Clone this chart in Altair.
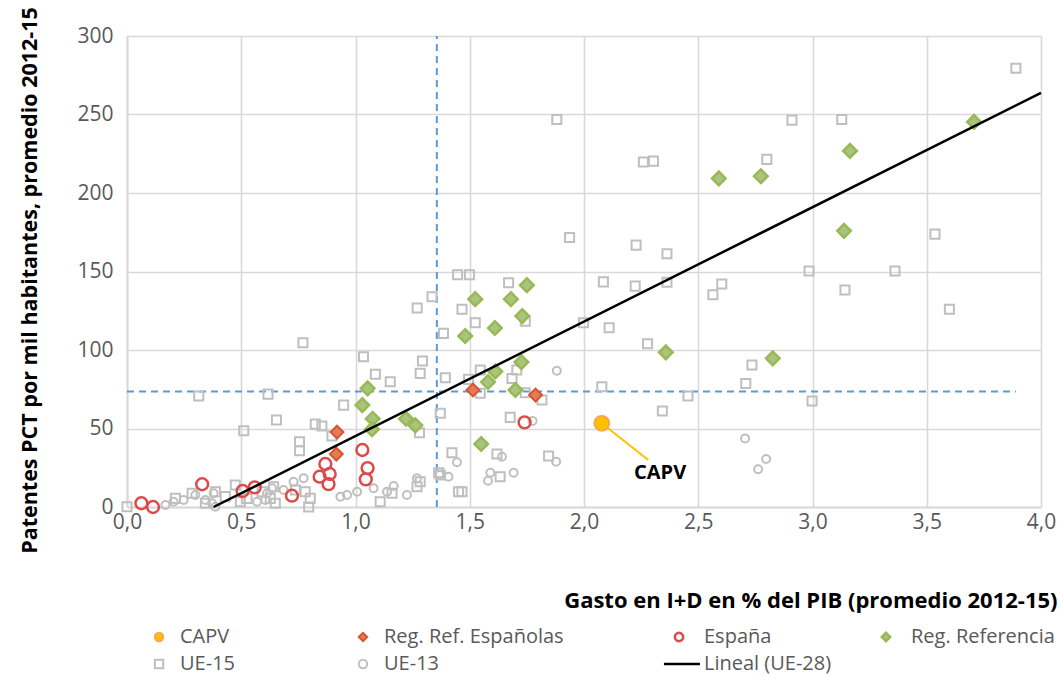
import altair as alt
import pandas as pd

FONT = "Open Sans"

# ---------------- data ----------------
ue15_x = [3.89, 2.91, 3.128, 1.881, 2.26, 2.304, 2.80, 2.228, 2.363, 1.937, 3.536, 2.985, 3.361, 3.142, 3.599,
          2.085, 2.224, 2.363, 2.603, 2.564, 2.11, 2.278, 2.735, 2.708, 2.455, 2.998, 2.343, 2.078, 1.447, 1.499,
          1.67, 1.335, 1.466, 1.524, 1.743, 1.998, 1.385, 1.27, 1.546, 1.706, 1.393, 1.495, 1.685, 1.546, 1.743,
          1.816, 1.371, 1.677, 1.422, 1.619, 1.845, 1.371, 1.633, 1.466, 0.77, 1.035, 1.293, 1.283, 1.087, 1.152,
          0.617, 0.314, 0.948, 0.654, 0.824, 0.853, 0.511, 0.755, 0.755, 1.28, 0.897, 0.0, 0.212, 0.285, 0.343,
          0.387, 0.43, 0.474, 0.525, 0.591, 0.627, 0.649, 0.642, 0.737, 0.78, 0.802, 0.795, 1.108, 1.16, 1.283,
          1.269, 1.364, 1.451, 0.496]
ue15_y = [279.5, 246.4, 246.8, 246.8, 219.8, 220.3, 221.4, 166.8, 161.3, 171.7, 173.8, 150.3, 150.3, 138.2, 125.9,
          143.4, 140.7, 143.1, 142.0, 135.2, 114.2, 104.0, 90.4, 78.7, 70.7, 67.5, 61.1, 76.6, 147.9, 147.9,
          142.8, 133.9, 125.9, 117.3, 118.4, 117.3, 110.6, 126.7, 87.2, 87.2, 82.3, 81.3, 81.9, 72.4, 72.8,
          68.1, 59.7, 57.1, 34.6, 33.7, 32.5, 20.4, 19.3, 9.7, 104.6, 95.7, 93.0, 85.1, 84.5, 79.8,
          71.9, 70.7, 64.9, 55.4, 52.8, 51.6, 48.6, 41.5, 35.8, 47.3, 45.2, 0.2, 5.5, 8.7, 2.4,
          9.7, 6.6, 14.0, 5.5, 9.7, 5.5, 2.4, 12.9, 10.8, 9.7, 5.5, 0.0, 3.4, 8.7, 16.1,
          12.9, 21.8, 9.7, 3.4]

ue13_x = [1.881, 1.775, 1.444, 1.641, 1.878, 1.368, 1.407, 1.59, 1.692, 1.58, 2.705, 2.797, 2.762,
          0.168, 0.204, 0.248, 0.299, 0.343, 0.372, 0.379, 0.387, 0.569, 0.605, 0.613, 0.635, 0.685,
          0.729, 0.773, 0.934, 0.963, 1.007, 1.079, 1.138, 1.167, 1.225, 1.269]
ue13_y = [86.8, 54.8, 28.5, 32.0, 28.8, 20.4, 19.3, 21.8, 21.8, 16.7, 43.7, 30.6, 24.0,
          1.3, 3.4, 4.5, 7.6, 4.5, 2.4, 8.7, 0.2, 3.4, 4.5, 8.7, 11.9, 10.8,
          16.1, 18.3, 6.6, 7.6, 9.7, 11.9, 9.7, 13.4, 7.6, 18.3]

esp_x = [0.063, 0.114, 0.329, 0.506, 0.559, 0.722, 0.868, 0.843, 0.887, 0.882, 1.03, 1.053, 1.045, 1.74]
esp_y = [2.4, 0.0, 14.5, 10.2, 12.5, 7.2, 27.4, 19.3, 21.0, 14.6, 36.3, 24.8, 17.6, 53.9]

rre_x = [0.919, 0.916, 1.514, 1.788]
rre_y = [47.7, 33.7, 74.5, 71.3]

rref_x = [3.707, 3.164, 2.59, 2.774, 3.138, 2.358, 2.826, 1.524, 1.75, 1.68, 1.73, 1.61, 1.48, 1.726,
          1.612, 1.58, 1.70, 1.55, 1.053, 1.03, 1.075, 1.072, 1.221, 1.262]
rref_y = [245.3, 226.8, 209.3, 210.7, 175.9, 98.5, 94.7, 132.4, 141.3, 132.4, 121.6, 114.0, 108.9, 92.3,
          86.3, 79.6, 74.5, 40.1, 75.6, 64.9, 56.2, 49.5, 56.2, 52.0]

capv_x = [2.078]
capv_y = [53.3]

trend_x = [0.379, 4.0]
trend_y = [0.0, 263.8]

mean_x = 1.356
mean_y = 73.5
mean_y_end = 3.89

label_x = [2.333]
label_y = [21.6]
leader_x2 = [2.281]
leader_y2 = [29.9]

x_ticks = [0, 0.5, 1.0, 1.5, 2.0, 2.5, 3.0, 3.5, 4.0]
y_ticks = [0, 50, 100, 150, 200, 250, 300]

X_TITLE = "Gasto en I+D en % del PIB (promedio 2012-15)"
Y_TITLE = "Patentes PCT por mil habitantes, promedio 2012-15"

# ---------------- tables ----------------
dfA = pd.concat([
    pd.DataFrame({"x": ue15_x, "y": ue15_y, "serie": "UE-15"}),
    pd.DataFrame({"x": ue13_x, "y": ue13_y, "serie": "UE-13"}),
    pd.DataFrame({"x": rre_x, "y": rre_y, "serie": "Reg. Ref. Españolas"}),
    pd.DataFrame({"x": capv_x, "y": capv_y, "serie": "CAPV"}),
], ignore_index=True)

dfB = pd.concat([
    pd.DataFrame({"x": rref_x, "y": rref_y, "serie": "Reg. Referencia"}),
    pd.DataFrame({"x": esp_x, "y": esp_y, "serie": "España"}),
], ignore_index=True)

df_line = pd.DataFrame({"x": trend_x, "y": trend_y, "serie": "Lineal (UE-28)"})
df_v = pd.DataFrame({"x": [mean_x], "y": [0], "y2": [300]})
df_h = pd.DataFrame({"x": [0], "x2": [mean_y_end], "y": [mean_y]})
df_lead = pd.DataFrame({"x": capv_x, "y": capv_y, "x2": leader_x2, "y2": leader_y2})
df_lab = pd.DataFrame({"x": label_x, "y": label_y, "t": ["CAPV"]})

# ---------------- scales / axes ----------------
xs = alt.Scale(domain=[0, 4], nice=False, zero=False)
ys = alt.Scale(domain=[0, 300], nice=False)

xaxis = alt.Axis(values=x_ticks, labelExpr="replace(format(datum.value, '.1f'), '.', ',')",
                 grid=True, gridColor="#D9D9D9", gridWidth=1.6, domainColor="#D9D9D9", domainWidth=2,
                 ticks=False, labelFlush=False, labelFont=FONT, labelFontSize=21, labelColor="#595959",
                 labelPadding=4, titleFont=FONT, titleFontSize=22, titleFontWeight="bold",
                 titleColor="#000000", titleAlign="right", titleAnchor="end", titleX=930, titleY=100,
                 titleBaseline="alphabetic")
yaxis = alt.Axis(values=y_ticks, grid=True, gridColor="#D9D9D9", gridWidth=1.6, domainColor="#D9D9D9",
                 domainWidth=2, ticks=False, labelFont=FONT, labelFontSize=21, labelColor="#595959",
                 labelPadding=14, titleFont=FONT, titleFontSize=21.5, titleFontWeight="bold",
                 titleColor="#000000", titleAngle=270, titleAlign="center", titleBaseline="middle",
                 titleX=-97, titleY=244)


def X(field="x"):
    return alt.X(f"{field}:Q", scale=xs, axis=xaxis, title=X_TITLE)


def Y(field="y"):
    return alt.Y(f"{field}:Q", scale=ys, axis=yaxis, title=Y_TITLE)


# ---------------- legends ----------------
domA = ["CAPV", "Reg. Ref. Españolas", "UE-15", "UE-13"]
shapeA = ["circle", "diamond", "square", "circle"]
fillA = ["#FFC000", "#E57A55", "transparent", "transparent"]
strokeA = ["#F7A84B", "#D4562E", "#BFBFBF", "#BFBFBF"]
# size scale uses another domain order so that its hidden legend is not merged with the shown one
sizeA_dom = ["UE-13", "UE-15", "Reg. Ref. Españolas", "CAPV"]
sizeA = [64, 82, 165, 220]

domB = ["España", "Reg. Referencia", "Lineal (UE-28)"]
shapeB = ["circle", "diamond", "M-3.6,0H5.0"]
fillB = ["transparent", "#A9C47F", "transparent"]
strokeB = ["#DD4A4A", "#98B954", "#000000"]
sizeB_dom = ["Reg. Referencia", "España"]
sizeB = [185, 140]

legA = alt.Legend(title=None, orient="none", legendX=22, legendY=591, direction="horizontal", columns=2,
                  columnPadding=118, rowPadding=7, symbolSize=70, symbolStrokeWidth=2, labelFont=FONT,
                  labelFontSize=20, labelColor="#595959", labelOffset=11, labelLimit=400, padding=0)
legB = alt.Legend(title=None, orient="none", legendX=542, legendY=591, direction="horizontal", columns=2,
                  columnPadding=44, rowPadding=7, symbolSize=70, symbolStrokeWidth=2.5, labelFont=FONT,
                  labelFontSize=20, labelColor="#595959", labelOffset=15, labelLimit=400, padding=0)

# ---------------- layers ----------------
vrule = alt.Chart(df_v).mark_rule(color="#5B9BD5", strokeWidth=2, strokeDash=[7, 5]).encode(
    x=X(), y=Y(), y2="y2:Q")
hrule = alt.Chart(df_h).mark_rule(color="#5B9BD5", strokeWidth=2, strokeDash=[7, 5]).encode(
    x=X(), x2="x2:Q", y=Y())
leader = alt.Chart(df_lead).mark_rule(color="#FFC000", strokeWidth=2).encode(
    x=X(), x2="x2:Q", y=Y(), y2="y2:Q")

pointsA = alt.Chart(dfA).mark_point(filled=True, strokeWidth=2, opacity=1).encode(
    x=X(), y=Y(),
    shape=alt.Shape("serie:N", scale=alt.Scale(domain=domA, range=shapeA), legend=legA),
    fill=alt.Fill("serie:N", scale=alt.Scale(domain=domA, range=fillA), legend=legA),
    stroke=alt.Stroke("serie:N", scale=alt.Scale(domain=domA, range=strokeA), legend=legA),
    size=alt.Size("serie:N", scale=alt.Scale(type="ordinal", domain=sizeA_dom, range=sizeA), legend=None),
)

pointsB = alt.Chart(dfB).mark_point(filled=True, strokeWidth=2.5, opacity=1).encode(
    x=X(), y=Y(),
    shape=alt.Shape("serie:N", scale=alt.Scale(domain=domB, range=shapeB), legend=legB),
    fill=alt.Fill("serie:N", scale=alt.Scale(domain=domB, range=fillB), legend=legB),
    stroke=alt.Stroke("serie:N", scale=alt.Scale(domain=domB, range=strokeB), legend=legB),
    size=alt.Size("serie:N", scale=alt.Scale(type="ordinal", domain=sizeB_dom, range=sizeB), legend=None),
)
trend = alt.Chart(df_line).mark_line(strokeWidth=2.5).encode(
    x=X(), y=Y(),
    stroke=alt.Stroke("serie:N", scale=alt.Scale(domain=domB, range=strokeB), legend=legB),
)
layerB = alt.layer(pointsB, trend)

label = alt.Chart(df_lab).mark_text(font=FONT, fontSize=20, fontWeight="bold", color="#000000",
                                    align="center", baseline="middle").encode(x=X(), y=Y(), text="t:N")

chart = alt.layer(vrule, hrule, leader, pointsA, layerB, label).resolve_scale(
    shape="independent", fill="independent", stroke="independent", size="independent"
).properties(
    width=914, height=471,
    autosize=alt.AutoSizeParams(type="none"),
    padding={"left": 127, "top": 36, "right": 18, "bottom": 171},
).configure_view(stroke=None)

chart.save("out.html", embed_options={"renderer": "svg", "actions": False})
